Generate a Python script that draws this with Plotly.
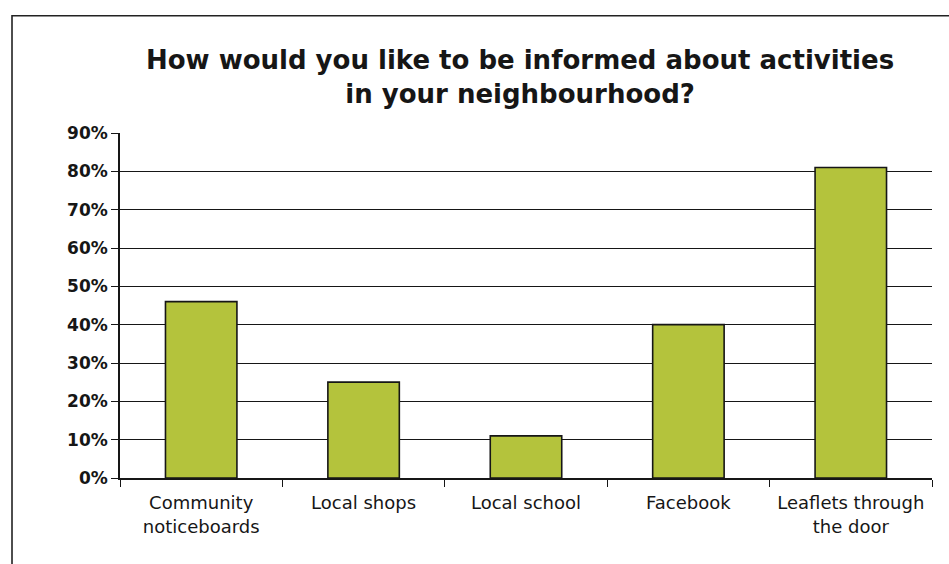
import plotly.graph_objects as go

# Survey responses: preferred ways of hearing about neighbourhood activities
categories = ["Community<br>noticeboards", "Local shops", "Local school",
              "Facebook", "Leaflets through<br>the door"]
share_pct = [46, 25, 11, 40, 81]
y_ticks = [0, 10, 20, 30, 40, 50, 60, 70, 80, 90]
y_tick_labels = [f"{v}%" for v in y_ticks]

FONT = "DejaVu Sans, Liberation Sans, Arial, sans-serif"
INK = "#161616"

fig = go.Figure()
fig.add_trace(go.Bar(
    x=categories,
    y=share_pct,
    marker=dict(color="#b4c33c", line=dict(color=INK, width=1.6)),
    hoverinfo="x+y",
))

fig.update_layout(
    width=949,
    height=564,
    margin=dict(l=120, r=17, t=133, b=86, autoexpand=False),
    paper_bgcolor="white",
    plot_bgcolor="white",
    bargap=0.56,
    showlegend=False,
    font=dict(family=FONT, color=INK),
    title=dict(
        text="<b>How would you like to be informed about activities<br>in your neighbourhood?</b>",
        x=0.548, xref="container", xanchor="center",
        y=0.878, yref="container", yanchor="top",
        font=dict(family=FONT, size=26, color=INK),
    ),
    xaxis=dict(
        type="category",
        automargin=False,
        tickangle=0,
        ticklabelstandoff=8,
        showline=True, linecolor=INK, linewidth=1.6,
        ticks="outside", tickson="boundaries", ticklen=7,
        tickcolor=INK, tickwidth=1.4,
        tickfont=dict(family=FONT, size=18, color=INK, weight=500),
        showgrid=False,
    ),
    yaxis=dict(
        range=[0, 90],
        automargin=False,
        tickmode="array",
        tickvals=y_ticks,
        ticktext=y_tick_labels,
        showline=True, linecolor=INK, linewidth=1.6,
        ticks="outside", ticklen=7, tickcolor=INK, tickwidth=1.4,
        tickfont=dict(family=FONT, size=17, color=INK, weight="bold"),
        showgrid=True, gridcolor=INK, gridwidth=1.4,
        zeroline=False,
    ),
)

# Outer chart frame that runs off the page on the right and bottom
fig.add_shape(
    type="rect", xref="paper", yref="paper",
    x0=-0.133, x1=1.5, y0=-1.0, y1=1.34,
    line=dict(color="#222222", width=1.6),
    fillcolor="rgba(0,0,0,0)", layer="below",
)

fig.write_html("out.html")
